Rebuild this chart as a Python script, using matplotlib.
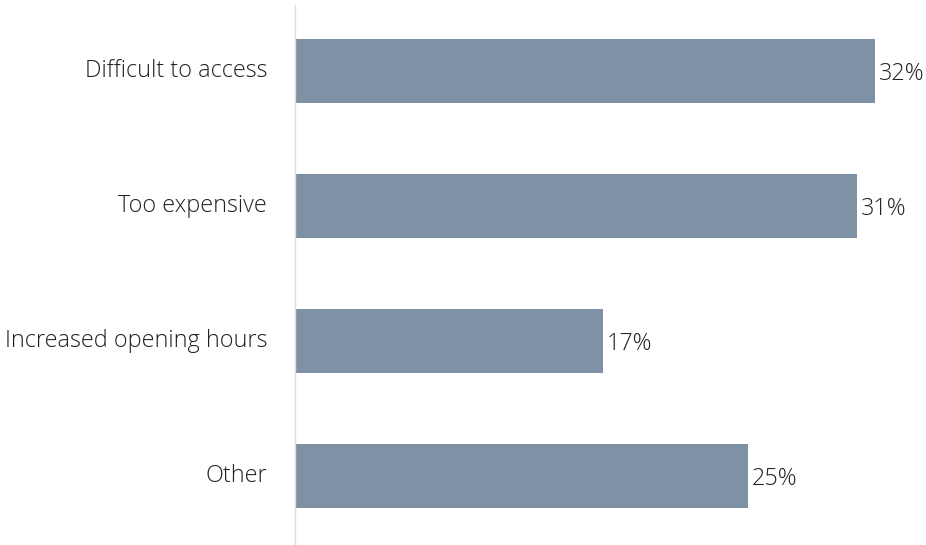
import matplotlib
matplotlib.use("Agg")
from matplotlib import pyplot as plt
from matplotlib.transforms import ScaledTranslation

categories = ["Difficult to access", "Too expensive", "Increased opening hours", "Other"]
values = [32, 31, 17, 25]

bar_color = "#7f91a5"
plt.rcParams['font.family'] = ['Open Sans', 'DejaVu Sans']

fig = plt.figure(figsize=(9.26, 5.45), dpi=100)
ax = fig.add_axes([295 / 926, 0, 1 - 295 / 926, 1 - 5 / 545])

ypos = list(range(len(categories)))
ax.barh(ypos, values, height=0.47, color=bar_color)
ax.set_ylim(3.51, -0.49)
ax.set_xlim(0, 631 / 18.12)

for y, v in zip(ypos, values):
    ax.annotate(f"{v}%", (v, y), xytext=(3, -2), textcoords="offset points",
                va="center", ha="left", fontsize=16.8, fontweight=300, color="#222222")

ax.set_yticks(ypos)
ax.set_yticklabels(categories, fontsize=16.8, fontweight=300, color="#222222")
ax.tick_params(axis="y", length=0, pad=20)
ax.set_xticks([])

# nudge category labels up a touch
shift = ScaledTranslation(0, 2 / 72, fig.dpi_scale_trans)
for lbl in ax.get_yticklabels():
    lbl.set_transform(lbl.get_transform() + shift)

for s in ["top", "right", "bottom"]:
    ax.spines[s].set_visible(False)
ax.spines["left"].set_color("#dddddd")
ax.spines["left"].set_linewidth(1)

fig.savefig("out.png", dpi=100)
